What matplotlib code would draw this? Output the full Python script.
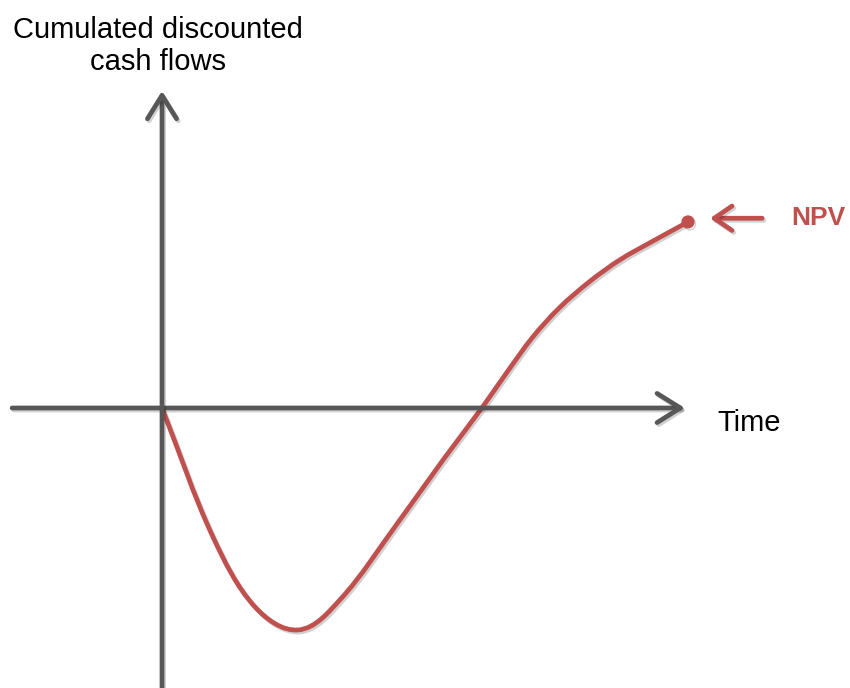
import matplotlib
matplotlib.use('Agg')
import numpy as np
import matplotlib.pyplot as plt
import matplotlib.patheffects as pe
from matplotlib.path import Path
from matplotlib.patches import PathPatch

# Curva de flujos de caja descontados acumulados
time = [0.0, 0.97, 1.77, 2.59, 3.38, 4.52, 5.34, 6.08, 6.56, 7.05, 7.57,
        8.14, 8.71, 9.33, 10.0]
cum_cf = [0.0, -3.49, -5.38, -6.0, -5.19, -3.03, -1.41, 0.0, 0.97, 1.92, 2.73,
          3.43, 4.01, 4.51, 5.03]

y_label = 'Cumulated discounted\ncash flows'
x_label = 'Time'
npv_label = 'NPV'

gray = '#575757'
red = '#C0504D'
shadow = [pe.SimpleLineShadow(offset=(1.2, -1.5), shadow_color='k', alpha=0.18), pe.Normal()]

fig = plt.figure(figsize=(8.5, 6.88), dpi=100)
ax = fig.add_axes([0, 0, 1, 1])
ax.set_xlim(-3.08, 13.08)
ax.set_ylim(-7.57, 11.03)
ax.axis('off')

# Ejes con flechas
arrow_ax = dict(arrowstyle='->,head_length=0.8,head_width=0.5', lw=3.4, color=gray,
                mutation_scale=21, shrinkA=0, shrinkB=0, path_effects=shadow)
ax.annotate('', xy=(9.94, 0), xytext=(-2.85, 0), arrowprops=arrow_ax)
ax.annotate('', xy=(0, 8.57), xytext=(0, -7.6), arrowprops=arrow_ax)

# Curva suave: bezier por los puntos, tangentes calculadas en pixeles
pts = ax.transData.transform(np.column_stack([time, cum_cf]))
n = len(pts)
tang = np.zeros_like(pts)
for i in range(n):
    d = pts[min(i + 1, n - 1)] - pts[max(i - 1, 0)]
    tang[i] = d / np.hypot(*d)
verts = [pts[0]]
codes = [Path.MOVETO]
for i in range(n - 1):
    seg = np.hypot(*(pts[i + 1] - pts[i])) / 3
    verts += [pts[i] + tang[i] * seg, pts[i + 1] - tang[i + 1] * seg, pts[i + 1]]
    codes += [Path.CURVE4] * 3
verts = ax.transData.inverted().transform(np.array(verts))
curve = PathPatch(Path(verts, codes), fill=False, edgecolor=red, lw=3.4,
                  capstyle='round', path_effects=shadow)
ax.add_patch(curve)
ax.plot(time[-1], cum_cf[-1], 'o', color=red, markersize=8.5, path_effects=shadow)

# Flecha del VPN
ax.annotate('', xy=(10.42, cum_cf[-1] + 0.1), xytext=(11.41, cum_cf[-1] + 0.1),
            arrowprops=dict(arrowstyle='->,head_length=0.8,head_width=0.55', lw=3.4,
                            color=red, mutation_scale=16, shrinkA=0, shrinkB=0,
                            path_effects=shadow))

font = 'Liberation Sans'
fig.text(158 / 850, 1 - 46 / 688, y_label, ha='center', va='center', fontsize=21,
         family=font, linespacing=1.2)
fig.text(749 / 850, 1 - 423 / 688, x_label, ha='center', va='center', fontsize=21,
         family=font)
fig.text(818 / 850, 1 - 218 / 688, npv_label, ha='center', va='center', fontsize=19,
         family=font, fontweight='bold', color=red)

fig.savefig('out.png', dpi=100)
